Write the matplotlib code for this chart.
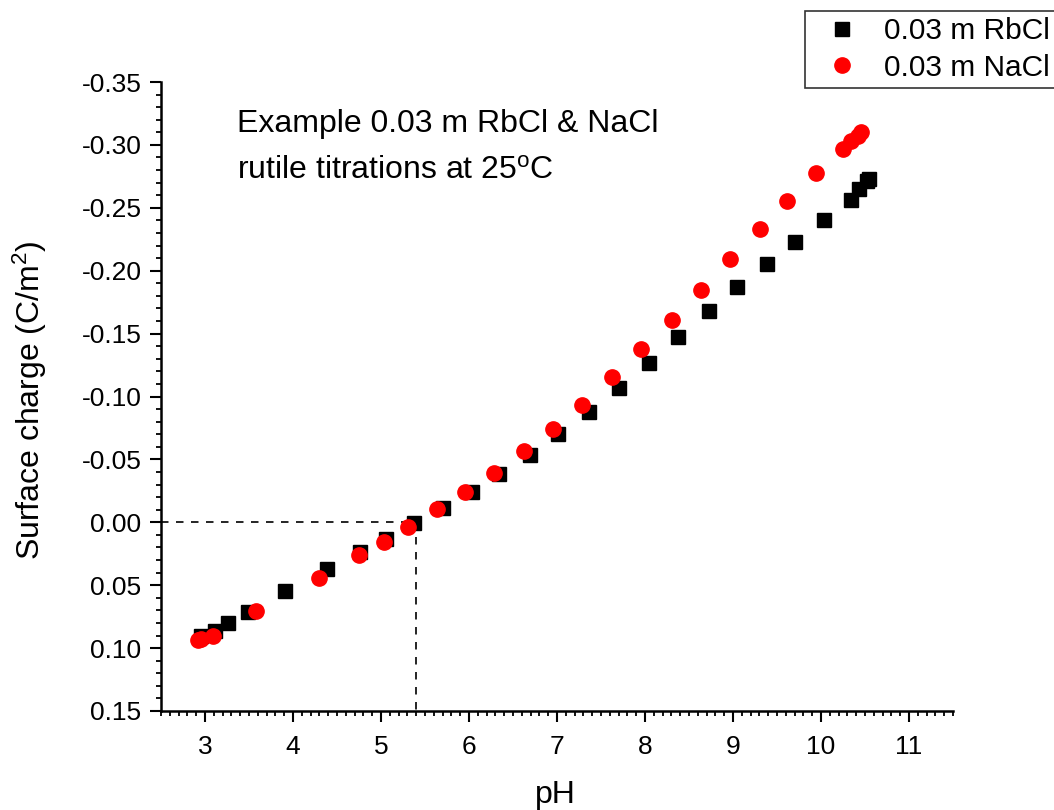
import matplotlib
matplotlib.use("Agg")
import matplotlib.pyplot as plt
from matplotlib.ticker import MultipleLocator, FormatStrFormatter

plt.rcParams['font.family'] = ['Liberation Sans', 'DejaVu Sans']
plt.rcParams['mathtext.fontset'] = 'custom'
plt.rcParams['mathtext.rm'] = 'Liberation Sans'
plt.rcParams['mathtext.it'] = 'Liberation Sans:italic'

# Data
ph_rbcl = [2.96, 3.11, 3.26, 3.49, 3.91, 4.39, 4.76, 5.06, 5.37, 5.70, 6.03, 6.34,
           6.69, 7.01, 7.36, 7.70, 8.04, 8.38, 8.73, 9.05, 9.39, 9.70, 10.03, 10.34,
           10.43, 10.52, 10.55]
sigma_rbcl = [0.0904, 0.0864, 0.0803, 0.0713, 0.0546, 0.0368, 0.0236, 0.0130, 0.0008,
              -0.0111, -0.0241, -0.0382, -0.0535, -0.0700, -0.0877, -0.1065, -0.1264,
              -0.1473, -0.1680, -0.1871, -0.2057, -0.2232, -0.2404, -0.2565, -0.2647,
              -0.2713, -0.2727]

ph_nacl = [2.92, 2.96, 3.09, 3.58, 4.29, 4.75, 5.03, 5.31, 5.64, 5.96, 6.28, 6.62,
           6.95, 7.28, 7.63, 7.96, 8.31, 8.64, 8.97, 9.31, 9.61, 9.94, 10.25, 10.34,
           10.42, 10.46]
sigma_nacl = [0.0936, 0.0930, 0.0904, 0.0708, 0.0440, 0.0262, 0.0153, 0.0037, -0.0103,
              -0.0241, -0.0392, -0.0564, -0.0745, -0.0936, -0.1153, -0.1375, -0.1611,
              -0.1850, -0.2091, -0.2335, -0.2557, -0.2780, -0.2965, -0.3029, -0.3071,
              -0.3103]

pzc = 5.4
labels = ['0.03 m RbCl', '0.03 m NaCl']

fig = plt.figure(figsize=(10.54, 8.10), dpi=100)
ax = fig.add_axes([161/1054, 1 - 711/810, (953-161)/1054, (711-82)/810])

ax.plot([2.5, pzc], [0, 0], ls=(0, (4.5, 4.5)), color='black', lw=1.2, zorder=1)
ax.plot([pzc, pzc], [0, 0.15], ls=(0, (4.5, 4.5)), color='black', lw=1.2, zorder=1)

ax.plot(ph_rbcl, sigma_rbcl, ls='none', marker='s', ms=10, color='black',
        label=labels[0], zorder=3)
ax.plot(ph_nacl, sigma_nacl, ls='none', marker='o', ms=11, color='#ff0000',
        label=labels[1], zorder=4)

ax.set_xlim(2.5, 11.5)
ax.set_ylim(0.15, -0.35)
ax.xaxis.set_major_locator(MultipleLocator(1))
ax.xaxis.set_minor_locator(MultipleLocator(0.1))
ax.yaxis.set_major_locator(MultipleLocator(0.05))
ax.yaxis.set_minor_locator(MultipleLocator(0.01))
ax.yaxis.set_major_formatter(FormatStrFormatter('%.2f'))

for s in ['top', 'right']:
    ax.spines[s].set_visible(False)
for s in ['left', 'bottom']:
    ax.spines[s].set_linewidth(1.8)

ax.tick_params(which='major', direction='out', length=8, width=1.5, labelsize=19, pad=6)
ax.tick_params(which='minor', direction='out', length=3.5, width=1.3)
ax.tick_params(axis='x', which='major', pad=9)

ax.set_xlabel('pH', fontsize=23)
ax.xaxis.set_label_coords(0.4975, -0.110)
ax.set_ylabel('Surface charge (C/m$^2$)', fontsize=23)
ax.yaxis.set_label_coords(-0.141, 0.494)

ax.text(237/1054, 1 - 109/810, 'Example 0.03 m RbCl & NaCl\nrutile titrations at 25$^{\\rm o}$C',
        transform=fig.transFigure, fontsize=23, ha='left', va='top', linespacing=1.75)

leg = fig.legend(loc='upper right', bbox_to_anchor=(1.002, 1 - 11/810), fontsize=21.5,
                 frameon=True, fancybox=False, edgecolor='black', handletextpad=0.37,
                 borderpad=0.2, labelspacing=0.3, handlelength=2.1, borderaxespad=0)
leg.get_frame().set_linewidth(1.2)

fig.savefig('out.png', dpi=100)
